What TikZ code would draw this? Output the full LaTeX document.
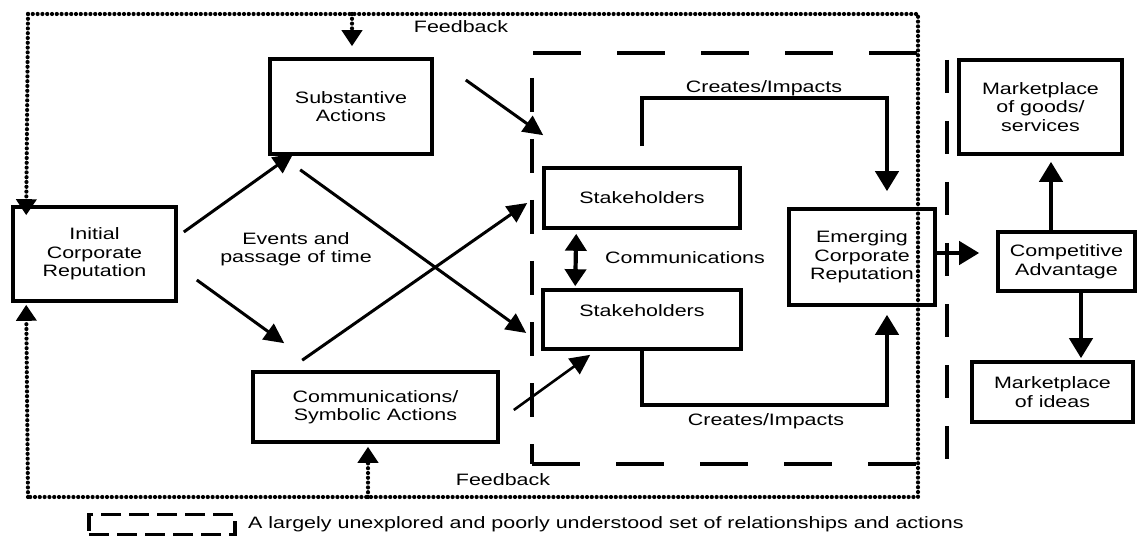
\documentclass[tikz,border=0pt]{standalone}
\usepackage{fontspec}
\setmainfont{Liberation Sans}[FakeStretch=1.3]
\usetikzlibrary{arrows.meta,calc}
\begin{document}
\begin{tikzpicture}[x=1pt,y=-1pt,
 lbl/.style={font=\fontsize{16.5}{18.5}\selectfont, align=center, inner sep=0pt},
 box/.style={lbl, draw, line width=3.6pt},
 arr/.style={line width=3pt, -{Triangle[length=20pt,width=19pt]}},
 thickarr/.style={line width=4.2pt, -{Triangle[length=20pt,width=23pt]}},
 dblarr/.style={line width=4.2pt, {Triangle[length=17pt,width=21pt]}-{Triangle[length=17pt,width=21pt]}},
 dotline/.style={line width=4.2pt, line cap=round, dash pattern=on 0pt off 4.8pt},
 fbarr/.style={dotline, -{Triangle[length=16pt,width=20pt]}},
 hdash/.style={line width=3.2pt, dash pattern=on 48pt off 36pt},
 vdash/.style={line width=3.2pt, dash pattern=on 34pt off 27pt},
 sepdash/.style={line width=3.2pt, dash pattern=on 33pt off 28pt},
 legdash/.style={draw, line width=3.2pt, dash pattern=on 20pt off 8pt, inner sep=0pt},
]
\useasboundingbox (0,0) rectangle (1137,537);

% boxes
\node[box, minimum width=163pt, minimum height=94pt] (init) at (94.5,254) {Initial\\Corporate\\Reputation};
\node[box, minimum width=162pt, minimum height=95pt] (subst) at (351,106.5) {Substantive\\Actions};
\node[box, minimum width=245pt, minimum height=70pt] (comms) at (375.5,407) {Communications/\\Symbolic Actions};
\node[box, minimum width=196pt, minimum height=60pt] (shA) at (642,198) {Stakeholders};
\node[box, minimum width=198pt, minimum height=59pt] (shB) at (642,319.5) {Stakeholders\\\mbox{}};
\node[box, minimum width=146pt, minimum height=96pt] (emerg) at (862,257) {Emerging\\Corporate\\Reputation};
\node[box, minimum width=163pt, minimum height=94pt] (goods) at (1040.5,107) {Marketplace\\of goods/\\services};
\node[box, minimum width=137pt, minimum height=59pt] (adv) at (1066.5,261.5) {Competitive\\Advantage};
\node[box, minimum width=161pt, minimum height=60pt] (ideas) at (1052.5,392) {Marketplace\\of ideas};

% labels
\node[lbl] (fbtop) at (461,27) {Feedback};
\node[lbl] (fbbot) at (503,480) {Feedback};
\node[lbl] (events) at (296,249) {Events and\\passage of time};
\node[lbl] (cit) at (764,88) {Creates/Impacts};
\node[lbl] (cib) at (766,421) {Creates/Impacts};
\node[lbl] (comlbl) at (685,258) {Communications};

% legend
\node[legdash, minimum width=146pt, minimum height=20pt] (legbox) at (162,524.5) {};
\node[lbl, anchor=west] (legtxt) at (248,524) {A largely unexplored and poorly understood set of relationships and actions};

% dashed region
\coordinate (dTR) at (918,53);
\coordinate (dBL) at (532,464);
\coordinate (dBR) at (918,464);
\draw[hdash] (533,53) -- (dTR);
\draw[hdash] (dBL) -- (dBR);
\draw[vdash] (532,78) -- (dBL);
\draw[sepdash] (947,60) -- (947,462);

% feedback dotted loop
\coordinate (fTL) at (28,14);
\coordinate (fTR) at (918,14);
\coordinate (fBR) at (918,497);
\coordinate (fBL) at (28,497);
\coordinate (fT) at (352,14);
\coordinate (fB) at (368,497);
\draw[dotline] (fTL) -- (fTR) -- (fBR) -- (fBL);
\draw[fbarr] (fTL) -- ($(init.north west)+(15,10)$);
\draw[fbarr] (fBL) -- ($(init.south west)+(15,2)$);
\draw[fbarr] (fT) -- ($(subst.north)+(1,-11)$);
\draw[fbarr] (fB) -- ($(comms.south)+(-7.5,3)$);

% connectors
\draw[arr] ($(init.east)+(6,-22)$) -- ($(subst.south west)+(25,-2)$);
\draw[arr] ($(init.east)+(19,26)$) -- ($(comms.north west)+(33,-27)$);
\draw[arr] ($(subst.south west)+(32,14)$) -- ($(shB.west)+(-15,13.5)$);
\draw[arr] ($(comms.north west)+(51,-10)$) -- ($(shA.west)+(-15,5)$);
\draw[arr] ($(subst.east)+(32,-26.5)$) -- ($(shA.north west)+(1,-31)$);
\draw[arr, line width=2.6pt] ($(comms.east)+(14,3)$) -- ($(shB.south west)+(49,4)$);
\draw[dblarr] ($(shA.south west)+(34,4)$) -- ($(shB.north west)+(34,-2)$);
\draw[thickarr] ($(shA.north)+(0,-20)$) -- ($(shA.north)+(0,-68)$) -| ($(emerg.north)+(25,-16)$);
\draw[thickarr] (shB.south) -- ($(shB.south)+(0,54)$) -| ($(emerg.south)+(25,8)$);
\draw[thickarr] ($(emerg.east)+(0,-4)$) -- ($(adv.west)+(-17,-8.5)$);
\draw[thickarr] ($(adv.north)+(-15.5,0)$) -- ($(goods.south)+(10.5,6)$);
\draw[thickarr] ($(adv.south)+(14.5,0)$) -- ($(ideas.north)+(28.5,-2)$);
\end{tikzpicture}
\end{document}
